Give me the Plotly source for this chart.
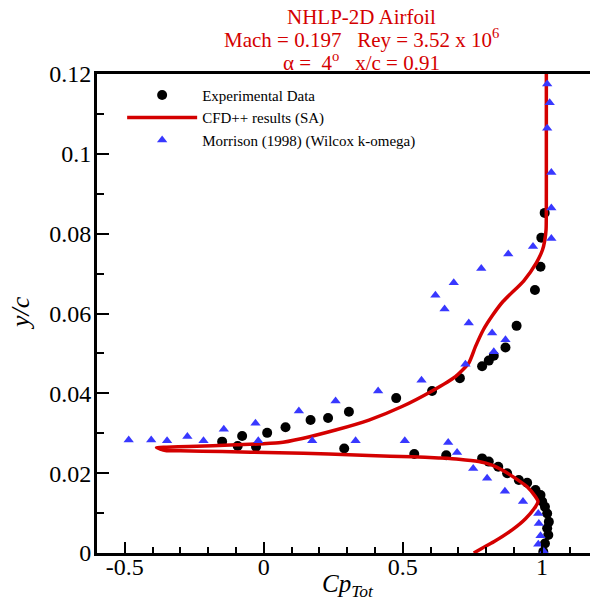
import plotly.graph_objects as go

# Experimental total-pressure profile (Cp_Tot, y/c)
exp_cp = [1.005, 1.011, 1.023, 1.019, 1.025, 1.019, 1.011, 1.001, 0.995, 0.977,
          0.947, 0.917, 0.875, 0.843, 0.809, 0.785, 0.656, 0.541, 0.289, -0.028,
          -0.094, -0.150, -0.078, 0.012, 0.078, 0.168, 0.231, 0.306, 0.476, 0.605,
          0.705, 0.785, 0.809, 0.827, 0.869, 0.909, 0.975, 0.995, 0.998, 1.010]
exp_y = [0.0003, 0.0024, 0.0045, 0.0062, 0.0078, 0.0099, 0.0116, 0.0129, 0.0145, 0.0158,
         0.0176, 0.0183, 0.0200, 0.0216, 0.0229, 0.0237, 0.0245, 0.0248, 0.0262, 0.0266,
         0.0268, 0.0279, 0.0293, 0.0301, 0.0315, 0.0333, 0.0338, 0.0354, 0.0388, 0.0406,
         0.0438, 0.0468, 0.0482, 0.0494, 0.0515, 0.0569, 0.0659, 0.0717, 0.0790, 0.0852]

# CFD++ (Spalart-Allmaras) profile
cfd_cp = [0.755, 0.785, 0.827, 0.893, 0.941, 0.977, 0.986, 0.977, 0.947, 0.905,
          0.857, 0.821, 0.773, 0.701, 0.629, 0.533, 0.378, 0.234, 0.054, -0.150,
          -0.300, -0.354, -0.386, -0.350, -0.270, -0.100, 0.054, 0.138, 0.258, 0.378,
          0.497, 0.605, 0.689, 0.737, 0.761, 0.790, 0.822, 0.860, 0.935, 0.980,
          1.002, 1.010, 1.015, 1.016, 1.016, 1.016]
cfd_y = [0.0000, 0.0012, 0.0028, 0.0058, 0.0086, 0.0116, 0.0129, 0.0141, 0.0166, 0.0187,
         0.0208, 0.0220, 0.0229, 0.0235, 0.0238, 0.0241, 0.0244, 0.0248, 0.0251, 0.0254,
         0.0256, 0.0257, 0.0264, 0.0265, 0.0267, 0.0271, 0.0276, 0.0287, 0.0308, 0.0333,
         0.0367, 0.0406, 0.0442, 0.0476, 0.0517, 0.0560, 0.0595, 0.0630, 0.0682, 0.0727,
         0.0759, 0.0782, 0.0810, 0.0900, 0.1000, 0.1200]

# Morrison (1998) Wilcox k-omega results
mor_cp = [-0.486, -0.405, -0.348, -0.275, -0.217, -0.144, -0.030, -0.020, 0.126, 0.174,
          0.258, 0.330, 0.411, 0.507, 0.567, 0.663, 0.695, 0.725, 0.753, 0.803,
          0.867, 0.932, 0.987, 0.989, 0.995, 0.987, 1.007, 0.827, 0.869, 0.821,
          0.737, 0.650, 0.617, 0.683, 0.782, 0.879, 0.968, 1.034, 1.034, 1.034,
          1.019, 1.028, 1.019]
mor_y = [0.0283, 0.0283, 0.0281, 0.0292, 0.0281, 0.0310, 0.0325, 0.0281, 0.0356, 0.0281,
         0.0381, 0.0281, 0.0406, 0.0281, 0.0433, 0.0277, 0.0252, 0.0473, 0.0212, 0.0187,
         0.0155, 0.0129, 0.0099, 0.0074, 0.0043, 0.0022, 0.0004, 0.0504, 0.0534, 0.0551,
         0.0576, 0.0611, 0.0646, 0.0677, 0.0713, 0.0749, 0.0768, 0.0788, 0.0864, 0.0953,
         0.1064, 0.1128, 0.1175]

x_tickvals = [-0.5, 0, 0.5, 1]
x_ticktext = ["-0.5", "0", "0.5", "1"]
y_tickvals = [0, 0.02, 0.04, 0.06, 0.08, 0.10, 0.12]
y_ticktext = ["0", "0.02", "0.04", "0.06", "0.08", "0.1", "0.12"]

FONT = "Liberation Serif"
RED = "#d40000"
BLUE = "#3838ff"

fig = go.Figure()

fig.add_trace(go.Scatter(
    x=exp_cp, y=exp_y, mode="markers", name="Experimental Data",
    marker=dict(symbol="circle", size=10, color="black"),
))
fig.add_trace(go.Scatter(
    x=cfd_cp, y=cfd_y, mode="lines", name="CFD++ results (SA)",
    line=dict(color=RED, width=3.5, shape="spline", smoothing=0.6),
))
fig.add_trace(go.Scatter(
    x=mor_cp, y=mor_y, mode="markers", name="Morrison (1998) (Wilcox k-omega)",
    marker=dict(symbol="triangle-up", size=9, color=BLUE),
))

axis_common = dict(
    showline=True, linewidth=3, linecolor="black",
    showgrid=False, zeroline=False,
    ticks="inside", tickwidth=2, tickcolor="black",
    tickfont=dict(family=FONT, size=24, color="black"),
    automargin=False,
)

fig.update_xaxes(
    range=[-0.6, 1.173], mirror=True,
    tickmode="array", tickvals=x_tickvals, ticktext=x_ticktext, ticklen=11,
    ticklabelstandoff=-10,
    minor=dict(ticks="inside", tick0=0, dtick=0.1, ticklen=6, tickwidth=1.5, tickcolor="black"),
    **axis_common,
)
fig.update_yaxes(
    range=[0, 0.12], mirror=False,
    tickmode="array", tickvals=y_tickvals, ticktext=y_ticktext, ticklen=12,
    ticklabelstandoff=-2,
    minor=dict(ticks="inside", tick0=0, dtick=0.01, ticklen=7, tickwidth=1.5, tickcolor="black"),
    **axis_common,
)

# Three-line red heading, one annotation per line for tight spacing
title_lines = [
    ("NHLP-2D Airfoil", 1.119),
    ("Mach = 0.197\u00a0\u00a0\u00a0Rey = 3.52 x 10<sup>6</sup>", 1.075),
    ("\u03b1 =\u00a0\u00a04<sup>o</sup>\u00a0\u00a0\u00a0x/c = 0.91", 1.026),
]
for text, ypos in title_lines:
    fig.add_annotation(
        text=text, xref="paper", yref="paper", x=0.5375, y=ypos,
        xanchor="center", yanchor="middle", showarrow=False,
        font=dict(family=FONT, size=21, color=RED),
    )

fig.add_annotation(
    text="<i>y/c</i>", xref="paper", yref="paper", x=-0.155, y=0.5,
    xanchor="center", yanchor="middle", textangle=-90, showarrow=False,
    font=dict(family=FONT, size=26, color="black"),
)
fig.add_annotation(
    text="<i>Cp<sub>Tot</sub></i>", xref="paper", yref="paper", x=0.51, y=-0.068,
    xanchor="center", yanchor="middle", showarrow=False,
    font=dict(family=FONT, size=25, color="black"),
)

fig.update_layout(
    width=590, height=605,
    margin=dict(l=97, r=0, t=74, b=52),
    paper_bgcolor="white", plot_bgcolor="white",
    showlegend=True,
    legend=dict(
        x=0.051, y=0.99, xanchor="left", yanchor="top",
        bgcolor="rgba(0,0,0,0)", borderwidth=0,
        font=dict(family=FONT, size=15, color="black"),
        itemwidth=70, tracegroupgap=0,
    ),
)

fig.write_html("out.html")
